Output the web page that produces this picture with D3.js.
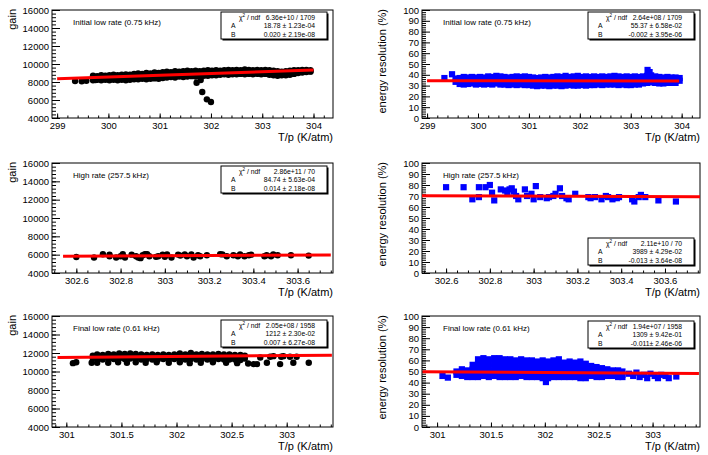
<!DOCTYPE html>
<html>
<head>
<meta charset="utf-8">
<script src="https://cdn.jsdelivr.net/npm/d3@7"></script>
<style>
  body { margin: 0; background: #fff; }
  svg { display: block; font-family: "Liberation Sans", Arial, Helvetica, sans-serif; }
</style>
</head>
<body>
<div id="chart"></div>
<script>
// ---------------- data ----------------
const runTitles = ["Initial low rate (0.75 kHz)", "High rate (257.5 kHz)", "Final low rate (0.61 kHz)"];

const gainTicks = [4000, 6000, 8000, 10000, 12000, 14000, 16000];
const resTicks = [0, 10, 20, 30, 40, 50, 60, 70, 80, 90, 100];
const xTicksInit = [299, 300, 301, 302, 303, 304];
const xTicksHigh = [302.6, 302.8, 303, 303.2, 303.4, 303.6];
const xTicksFinal = [301, 301.5, 302, 302.5, 303];

// fit results shown in the stat boxes: [chi2/ndf, A, B]
const statsGainInit = ["6.36e+10 / 1709", "18.78 \u00b1 1.23e-04", "0.020 \u00b1 2.19e-08"];
const statsResInit = ["2.64e+08 / 1709", "55.37 \u00b1 6.58e-02", "-0.002 \u00b1 3.95e-06"];
const statsGainHigh = ["2.86e+11 / 70", "84.74 \u00b1 5.63e-04", "0.014 \u00b1 2.18e-08"];
const statsResHigh = ["2.11e+10 / 70", "3989 \u00b1 4.29e-02", "-0.013 \u00b1 3.64e-08"];
const statsGainFinal = ["2.05e+08 / 1958", "1212 \u00b1 2.30e-02", "0.007 \u00b1 6.27e-08"];
const statsResFinal = ["1.94e+07 / 1958", "1309 \u00b1 9.42e-01", "-0.011\u00b1 2.46e-06"];

// fitted straight lines, end points [T/p, value]
const fitGainInit = [[299.0, 8350], [304.0, 9340]];
const fitResInit = [[299.0, 34.6], [303.95, 34.2]];
const fitGainHigh = [[302.54, 5830], [303.75, 5970]];
const fitResHigh = [[302.49, 70.3], [303.76, 69.4]];
const fitGainFinal = [[300.92, 11520], [303.41, 11770]];
const fitResFinal = [[300.865, 49.7], [303.43, 48.2]];

// initial low rate, gain: dense columns [T/p, gain, gain, ...] and loose points
const gainInitBand = [
  [299.70, 8700, 8450, 8200], [299.78, 8650, 8400, 8250], [299.86, 8750, 8500, 8200],
  [299.94, 8700, 8450, 8250], [300.02, 8750, 8400, 8200], [300.10, 8800, 8500, 8250],
  [300.18, 8750, 8450, 8200], [300.26, 8800, 8500, 8250], [300.34, 8850, 8550, 8200],
  [300.42, 8800, 8500, 8250], [300.50, 8900, 8600, 8300], [300.58, 8950, 8600, 8300],
  [300.66, 8900, 8650, 8350], [300.74, 9000, 8650, 8300], [300.82, 8950, 8700, 8350],
  [300.90, 9050, 8700, 8400], [300.98, 9000, 8750, 8350], [301.06, 9100, 8750, 8450],
  [301.14, 9150, 8800, 8500], [301.22, 9100, 8850, 8550], [301.30, 9200, 8850, 8500],
  [301.38, 9150, 8900, 8600], [301.46, 9200, 8850, 8550], [301.54, 9250, 8900, 8600],
  [301.62, 9200, 8950, 8650], [301.70, 9250, 8900, 8600], [301.78, 9200, 8950, 8650],
  [301.86, 9250, 9000, 8700], [301.94, 9300, 8950, 8700], [302.02, 9250, 9000, 8750],
  [302.10, 9300, 9050, 8750], [302.18, 9250, 9000, 8800], [302.26, 9300, 9050, 8850],
  [302.34, 9350, 9050, 8800], [302.42, 9300, 9100, 8850], [302.50, 9350, 9050, 8850],
  [302.58, 9300, 9100, 8900], [302.66, 9400, 9100, 8850], [302.74, 9350, 9100, 8900],
  [302.82, 9300, 9050, 8850], [302.90, 9350, 9100, 8900], [302.98, 9300, 9100, 8850],
  [303.06, 9350, 9050, 8900], [303.14, 9300, 9050, 8800], [303.22, 9250, 9000, 8750],
  [303.30, 9200, 8950, 8700], [303.38, 9150, 8950, 8750], [303.46, 9200, 9000, 8750],
  [303.54, 9250, 9000, 8800], [303.62, 9300, 9050, 8900], [303.70, 9300, 9100, 9000],
  [303.78, 9350, 9150, 9050], [303.86, 9350, 9200, 9100], [303.94, 9300, 9200, 9150]
];
const gainInitLoose = [
  [299.35, 8110], [299.48, 8080], [299.57, 8140], [299.75, 8220],
  [301.72, 7920], [301.80, 8220], [301.83, 6890], [301.92, 6070], [302.00, 5780]
];

// initial low rate, energy resolution (%)
const resInitBand = [
  [299.56, 36.5, 33.5], [299.64, 37, 34, 31.5], [299.72, 38, 34.5, 31], [299.80, 37.5, 34, 31.5],
  [299.88, 38, 35, 32], [299.96, 37.5, 34, 31], [300.04, 38, 34.5, 31.5], [300.12, 37.5, 34, 31],
  [300.20, 38.5, 35, 31.5], [300.28, 38, 34.5, 31], [300.36, 39, 35, 32], [300.44, 38.5, 34.5, 31],
  [300.52, 38, 34, 31], [300.60, 37.5, 34, 30.5], [300.68, 38, 34.5, 31], [300.76, 38.5, 34, 30.5],
  [300.84, 38, 34.5, 31], [300.92, 38.5, 34, 30.5], [301.00, 38, 34, 30.5], [301.08, 37.5, 33.5, 30],
  [301.16, 37, 33.5, 29.5], [301.24, 37.5, 33.5, 30], [301.32, 38, 34, 30], [301.40, 37.5, 33.5, 29.5],
  [301.48, 38, 34, 30], [301.56, 38.5, 34, 30], [301.64, 38, 33.5, 29.5], [301.72, 39, 34, 30],
  [301.80, 38, 34, 30.5], [301.88, 38.5, 34, 30], [301.96, 39, 34.5, 30], [302.04, 38, 34, 30.5],
  [302.12, 38.5, 34, 30], [302.20, 38, 33.5, 30.5], [302.28, 38.5, 34, 30.5], [302.36, 38, 34, 31],
  [302.44, 38.5, 34.5, 30.5], [302.52, 38, 34, 31], [302.60, 38.5, 34.5, 31], [302.68, 39, 34.5, 31],
  [302.76, 38.5, 34, 30.5], [302.84, 38, 34, 31], [302.92, 38.5, 34.5, 30.5], [303.00, 38, 34, 30.5],
  [303.08, 38.5, 34.5, 31], [303.16, 38, 34, 31], [303.24, 38.5, 34.5, 32], [303.32, 39, 35, 32.5],
  [303.40, 39.5, 36, 33], [303.48, 38.5, 35, 32.5], [303.56, 38, 34.5, 32], [303.64, 37.5, 34.5, 32],
  [303.72, 38, 35, 32.5], [303.80, 37.5, 34.5, 32.5], [303.88, 37.5, 34.5, 32.5], [303.96, 37, 34.5]
];
const resInitLoose = [[299.34, 37], [299.49, 40.5], [303.33, 44.5], [303.37, 42.5]];

// high rate: one T/p list shared by gain and resolution
const tHigh = [
  302.60, 302.68, 302.72, 302.75, 302.75, 302.78, 302.80, 302.81, 302.82, 302.85,
  302.87, 302.88, 302.89, 302.90, 302.91, 302.92, 302.93, 302.96, 302.97, 302.99,
  303.00, 303.01, 303.03, 303.06, 303.07, 303.09, 303.10, 303.12, 303.13, 303.15,
  303.16, 303.19, 303.25, 303.26, 303.28, 303.31, 303.33, 303.34, 303.36, 303.38,
  303.39, 303.45, 303.46, 303.48, 303.49, 303.51, 303.57, 303.65
];
const gainHigh = [
  5750, 5690, 6050, 5830, 6000, 5690, 5830, 6040, 5690, 6000,
  5830, 5690, 5620, 5930, 6050, 6060, 5830, 5760, 5830, 6010,
  5760, 6020, 5690, 6010, 5900, 6020, 5830, 6020, 5690, 5930,
  5830, 5930, 6060, 6030, 5830, 5930, 5830, 6020, 5830, 5930,
  6000, 5830, 5930, 5830, 6020, 5930, 5930, 5900
];
const resHigh = [
  78, 78, 67, 78, 69, 78, 80, 73, 66, 76,
  75, 72, 76, 77, 74, 70, 67, 76, 70, 72,
  67, 79, 69, 68, 69, 70, 72, 77, 70, 68,
  67, 72, 69, 68, 69, 67, 70, 69, 67, 68,
  69, 67, 65, 69, 71, 69, 66, 65
];

// final low rate, gain
const gainFinalBand = [
  [301.24, 11700, 11450], [301.28, 11850, 11600, 11350], [301.33, 11800, 11550, 11300],
  [301.38, 11900, 11650, 11400], [301.43, 11850, 11600, 11350], [301.48, 11950, 11700, 11400],
  [301.53, 11900, 11650, 11350], [301.58, 11950, 11700, 11400], [301.63, 11900, 11650, 11350],
  [301.68, 11850, 11600, 11300], [301.73, 11800, 11550, 11350], [301.78, 11850, 11600, 11300],
  [301.83, 11800, 11550, 11300], [301.88, 11850, 11600, 11350], [301.93, 11800, 11550, 11300],
  [301.98, 11850, 11600, 11350], [302.03, 11950, 11650, 11350], [302.08, 11850, 11600, 11300],
  [302.13, 12000, 11650, 11350], [302.18, 11850, 11600, 11300], [302.23, 11900, 11600, 11350],
  [302.28, 11850, 11600, 11300], [302.33, 11850, 11550, 11300], [302.38, 11900, 11600, 11350],
  [302.43, 11850, 11600, 11300], [302.48, 11850, 11550, 11300], [302.53, 11800, 11550, 11300],
  [302.58, 11800, 11500, 11250], [302.62, 11700, 11400]
];
const gainFinalLoose = [
  [301.06, 10900], [301.09, 11000], [301.23, 10950], [301.28, 10950], [301.38, 10950],
  [301.47, 11000], [301.55, 10950], [301.63, 11000], [301.72, 10950], [301.82, 11000],
  [301.93, 10950], [302.03, 11000], [302.12, 10900], [302.22, 10950], [302.33, 11000],
  [302.45, 10950], [302.55, 10900], [302.65, 10870], [302.70, 10800], [302.73, 10800],
  [302.76, 11520], [302.82, 10940], [302.85, 11590], [302.88, 11660], [302.94, 10800],
  [302.95, 11590], [302.97, 11660], [303.03, 11590], [303.06, 10940], [303.09, 11590],
  [303.20, 10940]
];

// final low rate, energy resolution (%)
const resFinalBand = [
  [301.18, 50, 47], [301.23, 52, 49, 46], [301.28, 51, 48, 45], [301.33, 56, 52, 48, 45],
  [301.38, 61, 57, 53, 49, 45], [301.43, 62, 58, 54, 50, 46], [301.48, 61, 57, 53, 49, 45],
  [301.53, 62, 58, 54, 50, 46], [301.58, 62, 58, 54, 49, 45], [301.63, 61, 57, 53, 49, 45],
  [301.68, 61, 57, 53, 49, 45], [301.73, 60, 56, 52, 48, 45], [301.78, 61, 57, 53, 49, 46],
  [301.83, 60, 56, 52, 48, 45], [301.88, 60, 56, 52, 48, 45], [301.93, 59, 55, 51, 48, 45],
  [301.98, 60, 56, 52, 48, 44], [302.03, 59, 55, 51, 47, 44], [302.08, 60, 56, 52, 48, 45],
  [302.13, 61, 56, 52, 48, 45], [302.18, 58, 54, 50, 47, 45], [302.23, 59, 55, 51, 47, 45],
  [302.28, 58, 54, 50, 47, 45], [302.33, 59, 55, 51, 47, 44], [302.38, 57, 53, 50, 47, 44],
  [302.43, 55, 52, 49, 46], [302.48, 54, 51, 48, 45], [302.53, 53, 50, 47, 45],
  [302.58, 52, 49, 46], [302.63, 51, 48, 46], [302.68, 51, 48, 45], [302.72, 50, 47, 45]
];
const resFinalLoose = [
  [301.05, 46], [301.10, 44.5], [302.01, 40.5], [302.78, 48], [302.82, 46], [302.85, 49],
  [302.88, 45], [302.92, 47], [302.95, 44], [302.98, 48], [303.02, 46], [303.05, 44],
  [303.08, 47], [303.12, 46], [303.15, 44], [303.22, 45.5]
];

// ---------------- drawing ----------------
const W = 708, H = 455;
const svg = d3.select("#chart").append("svg").attr("width", W).attr("height", H);

const cols = { left: [52, 333], right: [422, 700] };
const rows = [[10, 118], [163, 273], [316, 427]];

// turn [T, v1, v2, ...] columns into single points
const flatten = band => band.flatMap(([t, ...vs]) => vs.map(v => [t, v]));
const zipXY = (xs, ys) => xs.map((t, i) => [t, ys[i]]);

const gainAxis = { label: "gain", domain: [4000, 16000], ticks: gainTicks, minor: 400 };
const resAxis = { label: "energy resolution (%)", domain: [0, 100], ticks: resTicks, minor: 2 };

const panels = [
  { col: "left", row: 0, xDomain: [298.9, 304.38], xTicks: xTicksInit, xMinor: 0.2, yAx: gainAxis,
    points: flatten(gainInitBand).concat(gainInitLoose), marker: "circle", fit: fitGainInit,
    stats: statsGainInit, statsY: 12, title: runTitles[0] },
  { col: "right", row: 0, xDomain: [298.9, 304.36], xTicks: xTicksInit, xMinor: 0.2, yAx: resAxis,
    points: flatten(resInitBand).concat(resInitLoose), marker: "square", fit: fitResInit,
    stats: statsResInit, statsY: 12, title: runTitles[0] },
  { col: "left", row: 1, xDomain: [302.49, 303.76], xTicks: xTicksHigh, xMinor: 0.05, yAx: gainAxis,
    points: zipXY(tHigh, gainHigh), marker: "circle", fit: fitGainHigh,
    stats: statsGainHigh, statsY: 166, title: runTitles[1] },
  { col: "right", row: 1, xDomain: [302.49, 303.76], xTicks: xTicksHigh, xMinor: 0.05, yAx: resAxis,
    points: zipXY(tHigh, resHigh), marker: "square", fit: fitResHigh,
    stats: statsResHigh, statsY: 238, title: runTitles[1] },
  { col: "left", row: 2, xDomain: [300.87, 303.42], xTicks: xTicksFinal, xMinor: 0.1, yAx: gainAxis,
    points: flatten(gainFinalBand).concat(gainFinalLoose), marker: "circle", fit: fitGainFinal,
    stats: statsGainFinal, statsY: 320, title: runTitles[2] },
  { col: "right", row: 2, xDomain: [300.86, 303.44], xTicks: xTicksFinal, xMinor: 0.1, yAx: resAxis,
    points: flatten(resFinalBand).concat(resFinalLoose), marker: "square", fit: fitResFinal,
    stats: statsResFinal, statsY: 321, title: runTitles[2] }
];

const fmt = d3.format("~g");

function minorTicks(domain, step) {
  const out = [];
  const start = Math.ceil(domain[0] / step - 1e-9);
  for (let k = start; k * step <= domain[1] + 1e-9; k++) out.push(+(k * step).toFixed(6));
  return out;
}

panels.forEach(p => {
  const [x0, x1] = cols[p.col];
  const [y0, y1] = rows[p.row];
  const x = d3.scaleLinear().domain(p.xDomain).range([x0, x1]);
  const y = d3.scaleLinear().domain(p.yAx.domain).range([y1, y0]);
  const g = svg.append("g");

  // frame
  g.append("rect")
    .attr("x", x0).attr("y", y0)
    .attr("width", x1 - x0).attr("height", y1 - y0)
    .attr("fill", "none").attr("stroke", "#000").attr("stroke-width", 1);

  // y axis: ticks point inside the frame, like ROOT
  const yMaj = g.append("g").attr("transform", `translate(${x0},0)`)
    .call(d3.axisLeft(y).tickValues(p.yAx.ticks).tickSize(-8).tickPadding(3).tickFormat(d3.format("d")));
  const yMin = g.append("g").attr("transform", `translate(${x0},0)`)
    .call(d3.axisLeft(y).tickValues(minorTicks(p.yAx.domain, p.yAx.minor)).tickSize(-4).tickFormat(""));

  // x axis
  const xMaj = g.append("g").attr("transform", `translate(0,${y1})`)
    .call(d3.axisBottom(x).tickValues(p.xTicks).tickSize(-4.5).tickPadding(4).tickFormat(fmt));
  const xMin = g.append("g").attr("transform", `translate(0,${y1})`)
    .call(d3.axisBottom(x).tickValues(minorTicks(p.xDomain, p.xMinor)).tickSize(-2.5).tickFormat(""));

  [yMaj, yMin, xMaj, xMin].forEach(a => {
    a.select(".domain").remove();
    a.attr("font-family", null).attr("font-size", null);
    a.selectAll("text").attr("font-size", 9.5).attr("fill", "#000");
  });

  // axis titles
  g.append("text")
    .attr("x", x1).attr("y", y1 + 23)
    .attr("text-anchor", "end").attr("font-size", 11)
    .text("T/p (K/atm)");
  g.append("text")
    .attr("transform", `translate(${x0 - 36},${y0 - 1}) rotate(-90)`)
    .attr("text-anchor", "end").attr("font-size", 11)
    .text(p.yAx.label);

  // data points
  if (p.marker === "circle") {
    g.append("g").selectAll("circle").data(p.points).join("circle")
      .attr("cx", d => x(d[0])).attr("cy", d => y(d[1]))
      .attr("r", 3.2).attr("fill", "#000");
  } else {
    const s = 6.2;
    g.append("g").selectAll("rect").data(p.points).join("rect")
      .attr("x", d => x(d[0]) - s / 2).attr("y", d => y(d[1]) - s / 2)
      .attr("width", s).attr("height", s).attr("fill", "#0000ff");
  }

  // fit line
  g.append("path")
    .datum(p.fit)
    .attr("d", d3.line().x(d => x(d[0])).y(d => y(d[1])))
    .attr("fill", "none").attr("stroke", "#ff0000").attr("stroke-width", 3);

  // run label
  g.append("text")
    .attr("x", x0 + 21).attr("y", y0 + 15)
    .attr("font-size", 8).text(p.title);

  // stat box with shadow
  const bw = 106, bh = 27, fs = 6.8;
  const bx = x1 - 6 - bw, by = p.statsY;
  g.append("rect").attr("x", bx + 1.5).attr("y", by + 1.5).attr("width", bw).attr("height", bh).attr("fill", "#000");
  g.append("rect").attr("x", bx).attr("y", by).attr("width", bw).attr("height", bh)
    .attr("fill", "#fff").attr("stroke", "#000").attr("stroke-width", 1);
  const names = ["", "A", "B"];
  p.stats.forEach((val, i) => {
    const ty = by + 7.8 + i * 8.4;
    if (i === 0) {
      const t = g.append("text").attr("x", bx + 18).attr("y", ty).attr("font-size", fs);
      t.append("tspan").text("\u03c7");
      t.append("tspan").attr("dy", -2.6).attr("font-size", 4.6).text("2");
      t.append("tspan").attr("dy", 2.6).text(" / ndf");
    } else {
      g.append("text").attr("x", bx + 10).attr("y", ty).attr("font-size", fs).text(names[i]);
    }
    g.append("text").attr("x", bx + bw - 12).attr("y", ty)
      .attr("text-anchor", "end").attr("font-size", fs).text(val);
  });
});
</script>
</body>
</html>
